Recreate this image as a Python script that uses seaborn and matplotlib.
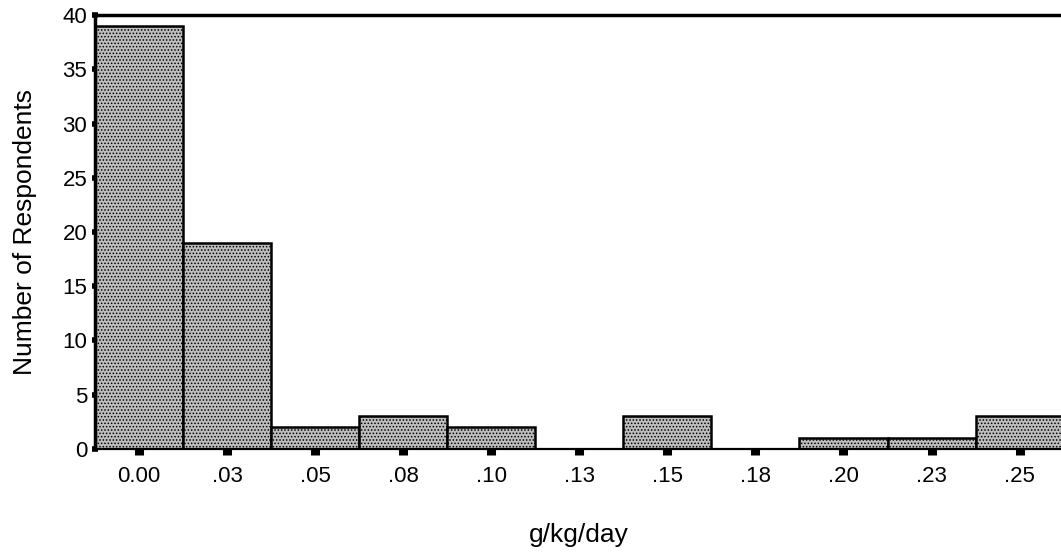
import matplotlib
matplotlib.use('Agg')
import matplotlib.pyplot as plt
import seaborn as sns
import pandas as pd

# Histogram of intake (g/kg/day), bin width .025
bin_labels = ['0.00', '.03', '.05', '.08', '.10', '.13', '.15', '.18', '.20', '.23', '.25']
counts     = [39, 19, 2, 3, 2, 0, 3, 0, 1, 1, 3]
y_ticks    = [0, 5, 10, 15, 20, 25, 30, 35, 40]

df = pd.DataFrame({'bin': bin_labels, 'count': counts})

sns.set_style('white')
plt.rcParams['font.family'] = ['Liberation Sans', 'DejaVu Sans']
plt.rcParams['hatch.linewidth'] = 0.7
plt.rcParams['text.color'] = 'black'
plt.rcParams['axes.labelcolor'] = 'black'
plt.rcParams['xtick.color'] = 'black'
plt.rcParams['ytick.color'] = 'black'

fig = plt.figure(figsize=(10.61, 5.57), dpi=100)
ax = fig.add_axes([0.0895, 0.194, 0.913, 0.779])

# stippled grey bars, touching each other like a histogram
sns.barplot(data=df, x='bin', y='count', order=bin_labels,
            width=1.0, color='#bdbdbd', edgecolor='black',
            linewidth=1.8, hatch='.....', ax=ax)

ax.set_xlim(-0.5, 10.5)
ax.set_ylim(0, 40)
ax.set_yticks(y_ticks)
ax.set_yticklabels([str(v) for v in y_ticks], fontsize=16)
ax.set_xticks(range(len(bin_labels)))
ax.set_xticklabels(bin_labels, fontsize=16)

ax.tick_params(axis='y', left=True, direction='inout', length=5, width=4,
               pad=3, color='black', labelcolor='black')
ax.tick_params(axis='x', bottom=True, direction='out', length=4, width=6.5,
               pad=8, color='black', labelcolor='black')

for side in ['left', 'top']:
    ax.spines[side].set_linewidth(2.5)
    ax.spines[side].set_color('black')
ax.spines['bottom'].set_linewidth(1.6)
ax.spines['bottom'].set_color('black')
ax.spines['right'].set_visible(False)

ax.set_xlabel('g/kg/day', fontsize=19, labelpad=26, color='black')
ax.set_ylabel('Number of Respondents', fontsize=19, labelpad=18, color='black')

plt.savefig('out.png', dpi=100)
plt.close()
